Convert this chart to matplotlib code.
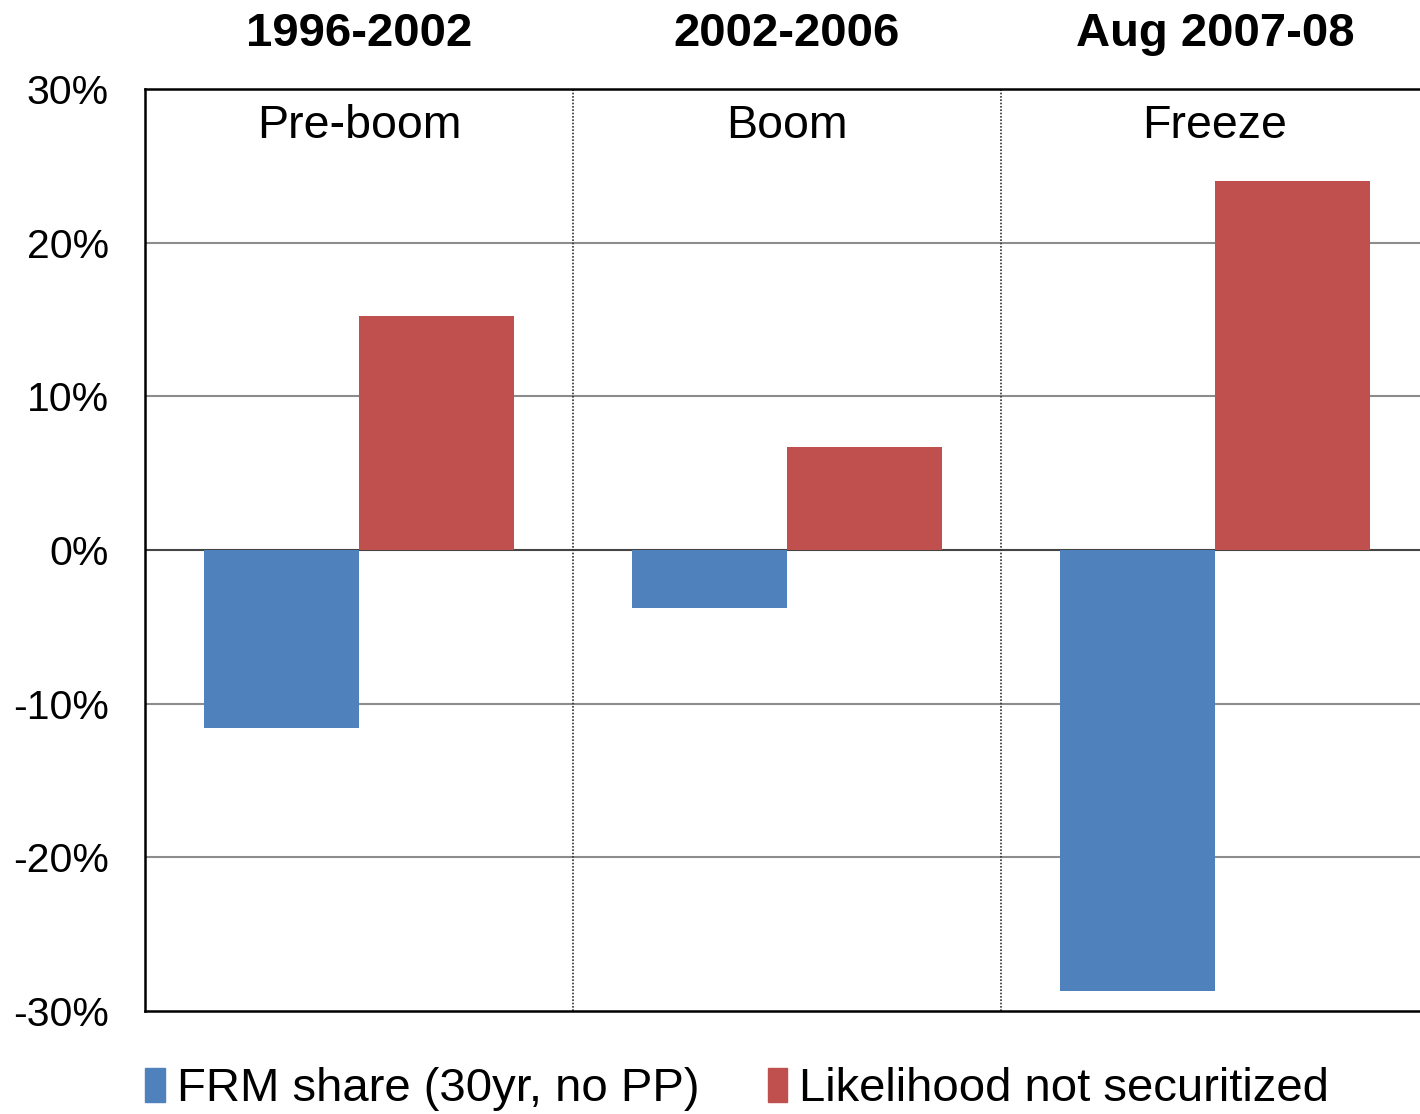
import numpy as np
import matplotlib.pyplot as plt
from matplotlib.patches import Patch

plt.rcParams['font.family'] = ['Liberation Sans', 'DejaVu Sans']

periods = ['1996-2002', '2002-2006', 'Aug 2007-08']
phases = ['Pre-boom', 'Boom', 'Freeze']
frm_share = [-11.6, -3.8, -28.7]
not_securitized = [15.2, 6.7, 24.0]
yticks = [-30, -20, -10, 0, 10, 20, 30]

blue = '#4F81BD'
red = '#C0504D'

fig = plt.figure(figsize=(14.2, 11.14), dpi=100)
ax = fig.add_axes([0.1021, 0.0925, 0.9042, 0.8276])

x = np.arange(len(periods))
width = 0.362
ax.bar(x - width / 2, frm_share, width, color=blue, zorder=3)
ax.bar(x + width / 2, not_securitized, width, color=red, zorder=3)

ax.set_xlim(-0.5, len(periods) - 0.5)
ax.set_ylim(-30, 30)
ax.set_yticks(yticks)
ax.set_yticklabels([f'{v}%' for v in yticks], fontsize=29.5)
ax.tick_params(axis='y', length=0, pad=26)
ax.set_xticks([])

# horizontal gridlines, zero line a bit darker
for v in yticks[1:-1]:
    ax.axhline(v, color='#444444' if v == 0 else '#8c8c8c', lw=1.5, zorder=1)

# dotted separators between periods
for xs in x[:-1] + 0.5:
    ax.axvline(xs, color='#333333', lw=1.2, ls=(0, (1, 1)), zorder=2)

for s in ['left', 'bottom', 'top']:
    ax.spines[s].set_color('black')
    ax.spines[s].set_linewidth(1.8)
ax.spines['right'].set_visible(False)

for xi, period, phase in zip(x, periods, phases):
    ax.text(xi, 27.6, phase, ha='center', va='center', fontsize=33.5)
    ax.text(xi, 1.0 + 55 / 922, period, ha='center', va='center',
            fontsize=34, fontweight='bold',
            transform=ax.get_xaxis_transform(), clip_on=False)

handles = [Patch(color=blue, label='FRM share (30yr, no PP)'),
           Patch(color=red, label='Likelihood not securitized')]
fig.legend(handles=handles, loc='center', bbox_to_anchor=(0.519, 0.022),
           ncol=2, frameon=False, fontsize=34, handlelength=0.42,
           handleheight=0.75, handletextpad=0.25, columnspacing=1.45)

fig.savefig('out.png', dpi=100)
